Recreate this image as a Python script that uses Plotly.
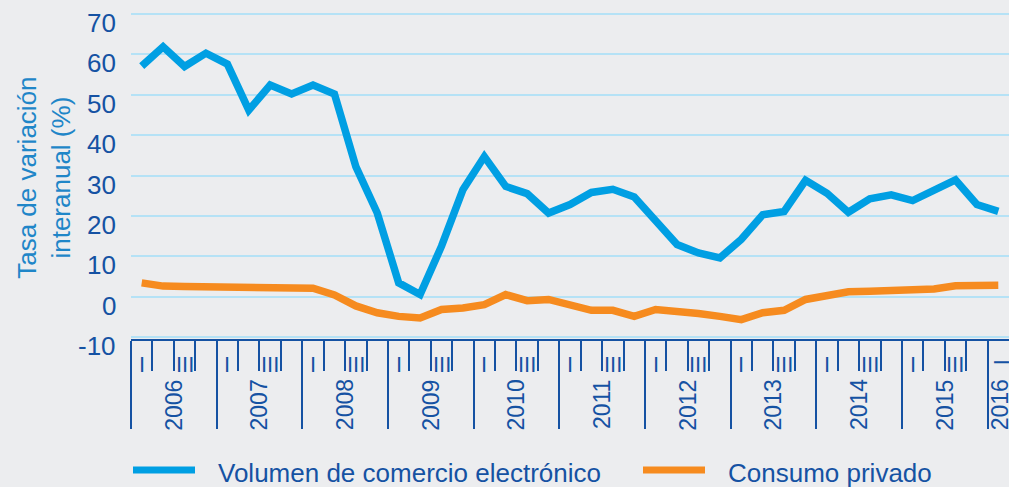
import plotly.graph_objects as go

# ---- data ----
years = [2006, 2007, 2008, 2009, 2010, 2011, 2012, 2013, 2014, 2015, 2016]
quarter_names = ["I", "II", "III", "IV"]
cat_year = [y for y in years[:-1] for _ in quarter_names] + [2016]
cat_quarter = quarter_names * 10 + ["I"]

ecommerce = [57.1, 61.9, 57.0, 60.3, 57.6, 46.2, 52.4, 50.2, 52.4, 50.2,
             32.2, 20.7, 3.4, 0.5, 12.5, 26.5, 34.7, 27.3, 25.5, 20.7,
             22.8, 25.8, 26.6, 24.7, 18.8, 12.9, 10.8, 9.6, 14.2, 20.3,
             21.1, 28.8, 25.6, 20.9, 24.2, 25.2, 23.8, 26.6, 28.9, 22.8,
             21.1]
consumo = [3.4, 2.6, 2.5, 2.4, 2.4, 2.3, 2.2, 2.1, 2.1, 0.4,
           -2.3, -4.0, -4.9, -5.3, -3.2, -2.8, -2.0, 0.5, -1.0, -0.7,
           -2.0, -3.4, -3.4, -4.9, -3.2, -3.5, -4.2, -4.9, -5.7, -4.0,
           -3.4, -0.7, 0.2, 1.2, 1.3, 1.4, 1.6, 1.9, 2.7, 2.8,
           2.8]
series_names = ["Volumen de comercio electrónico", "Consumo privado"]
y_ticks = [-10, 0, 10, 20, 30, 40, 50, 60, 70]
y_tick_text = ["-10", "0", "10", "20", "30", "40", "50", "60", "70"]
y_title = "Tasa de variación<br>interanual (%)"

# ---- styling ----
BLUE = "#009fe3"
ORANGE = "#f68b1f"
DARK = "#1552a3"
TITLE_BLUE = "#1f86c8"
GRID = "#b5e2f6"
BG = "#ecedef"
FONT = "Liberation Sans, Arial, sans-serif"

n = len(cat_year)
xs = list(range(n))

fig = go.Figure()
fig.add_trace(go.Scatter(x=xs, y=ecommerce, mode="lines", name=series_names[0],
                         line=dict(color=BLUE, width=7.5), showlegend=False))
fig.add_trace(go.Scatter(x=xs, y=consumo, mode="lines", name=series_names[1],
                         line=dict(color=ORANGE, width=7.5), showlegend=False))

# year boundaries (major ticks) and quarter boundaries (minor ticks)
year_bounds = [i - 0.5 for i in xs if cat_quarter[i] == "I"]
quarter_bounds = [i - 0.5 for i in xs if cat_quarter[i] != "I"]

fig.update_xaxes(
    range=[-0.5, n - 0.5], showgrid=False, zeroline=False,
    showline=True, linecolor=DARK, linewidth=2,
    tickmode="array", tickvals=year_bounds, ticks="outside", ticklen=88,
    tickwidth=2, tickcolor=DARK, showticklabels=False,
    minor=dict(tickmode="array", tickvals=quarter_bounds, ticks="outside",
               ticklen=30, tickwidth=2, tickcolor=DARK, showgrid=False),
)
fig.update_yaxes(
    range=[-10.5, 71], tickmode="array", tickvals=y_ticks,
    showgrid=True, gridcolor=GRID, gridwidth=2, zeroline=False,
    showline=False, ticks="", showticklabels=False,
)

annotations = []
# y tick labels (sit slightly below their gridlines, as in the reference)
for v, t in zip(y_ticks, y_tick_text):
    annotations.append(dict(x=0, y=v, xref="paper", yref="y", text=t,
                            showarrow=False, xanchor="right", yanchor="middle",
                            xshift=-13, yshift=-9,
                            font=dict(family=FONT, size=26, color=DARK)))
# quarter labels (only I and III shown, as in the reference)
for i in xs:
    q = cat_quarter[i]
    if cat_year[i] == years[-1]:
        annotations.append(dict(x=i, y=0, xref="x", yref="paper", text=q,
                                showarrow=False, textangle=-90,
                                xanchor="center", yanchor="middle",
                                yshift=-23, xshift=3,
                                font=dict(family=FONT, size=22, color=DARK)))
    elif q in ("I", "III"):
        annotations.append(dict(x=i, y=0, xref="x", yref="paper", text=q,
                                showarrow=False, xanchor="center",
                                yanchor="middle", yshift=-25,
                                font=dict(family=FONT, size=22, color=DARK)))
# year labels
for yv in years:
    idx = [i for i in xs if cat_year[i] == yv]
    xc = sum(idx) / len(idx)
    annotations.append(dict(x=xc, y=0, xref="x", yref="paper", text=str(yv),
                            showarrow=False, textangle=-90,
                            xanchor="center", yanchor="middle", yshift=-66,
                            xshift=2 if yv == years[-1] else 0,
                            font=dict(family=FONT, size=23, color=DARK)))
# y-axis title
annotations.append(dict(x=0, y=0.49, xref="paper", yref="paper", text=y_title,
                        showarrow=False, textangle=-90, xshift=-87,
                        xanchor="center", yanchor="middle", align="center",
                        font=dict(family=FONT, size=26, color=TITLE_BLUE)))

# custom legend
shapes = []
legend_items = [(series_names[0], BLUE, 2, 85), (series_names[1], ORANGE, 512, 595)]
for name, col, sx, tx in legend_items:
    shapes.append(dict(type="line", xref="paper", yref="paper",
                       xsizemode="pixel", ysizemode="pixel", xanchor=0, yanchor=0,
                       x0=sx, x1=sx + 62, y0=-131, y1=-131,
                       line=dict(color=col, width=7)))
    annotations.append(dict(x=0, y=0, xref="paper", yref="paper", text=name,
                            showarrow=False, xanchor="left", yanchor="middle",
                            xshift=tx, yshift=-134,
                            font=dict(family=FONT, size=26, color=DARK)))

fig.update_layout(
    width=1009, height=487, autosize=False,
    margin=dict(l=131, r=0, t=10, b=148),
    paper_bgcolor=BG, plot_bgcolor=BG,
    annotations=annotations, shapes=shapes,
    showlegend=False,
)

fig.write_html("out.html",
               config={"displayModeBar": False},
               post_script="document.body.style.margin='0';"
                           "document.body.style.overflow='hidden';")
